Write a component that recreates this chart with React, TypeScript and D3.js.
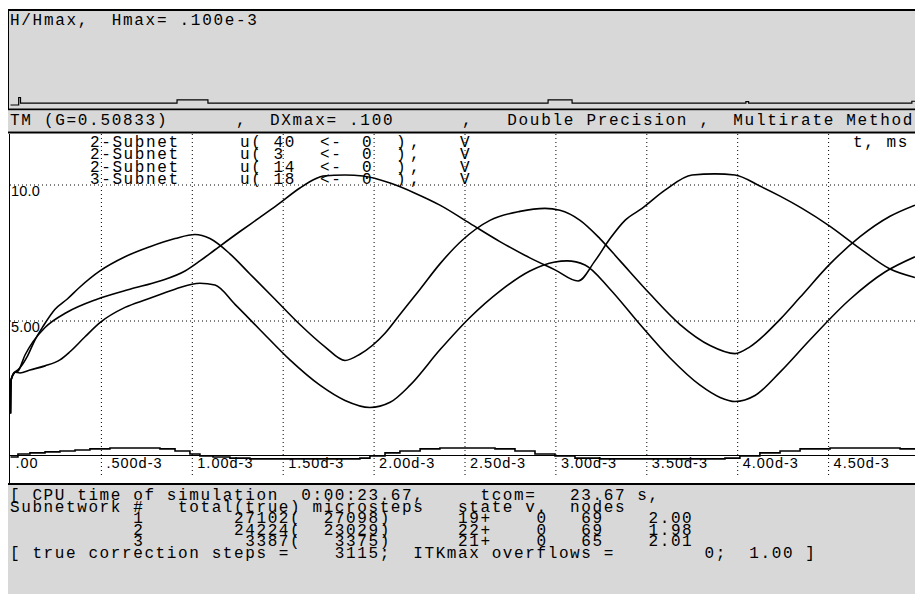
import React from "react";
import * as d3 from "d3";

// time in ms (axis labels are in seconds, d-3), values in V
const timeTicks = [0, 0.5, 1.0, 1.5, 2.0, 2.5, 3.0, 3.5, 4.0, 4.5];
const timeTickLabels = [".00", ".500d-3", "1.00d-3", "1.50d-3", "2.00d-3", "2.50d-3", "3.00d-3", "3.50d-3", "4.00d-3", "4.50d-3"];
const valueTicks = [5, 10];
const valueTickLabels = ["5.00", "10.0"];

type Pt = [number, number];

const u40: Pt[] = [
  [0, 1.6], [0.003, 2.83], [0.025, 3.12], [0.041, 3.2], [0.091, 3.68], [0.135, 4.31], [0.179, 4.8],
  [0.245, 5.43], [0.311, 5.8], [0.382, 6.25], [0.492, 6.84], [0.63, 7.36], [0.767, 7.73], [0.905, 8.03],
  [1.015, 8.18], [1.097, 8.03], [1.207, 7.47], [1.317, 6.73], [1.455, 5.8], [1.592, 4.87], [1.73, 4.05],
  [1.84, 3.55], [1.922, 3.78], [2.06, 4.55], [2.142, 5.24], [2.253, 6.17], [2.362, 7.1], [2.483, 7.96],
  [2.637, 8.7], [2.802, 9.03], [2.94, 9.14], [3.022, 9.07], [3.133, 8.7], [3.242, 8.03], [3.353, 7.21],
  [3.518, 5.99], [3.683, 4.87], [3.848, 4.1], [3.985, 3.8], [4.067, 4.05], [4.233, 5.06], [4.343, 5.87],
  [4.508, 7.1], [4.673, 8.1], [4.838, 8.85], [4.975, 9.26],
];

const u3: Pt[] = [
  [0, 1.6], [0.003, 2.83], [0.025, 3.12], [0.041, 3.16], [0.08, 3.75], [0.124, 4.24], [0.19, 4.76],
  [0.311, 5.32], [0.476, 5.8], [0.657, 6.17], [0.822, 6.47], [0.96, 6.84], [1.042, 7.21], [1.125, 7.62],
  [1.262, 8.29], [1.372, 8.81], [1.466, 9.26], [1.592, 9.89], [1.675, 10.22], [1.719, 10.33],
  [1.84, 10.37], [1.939, 10.33], [2.088, 10.07], [2.225, 9.7], [2.362, 9.26], [2.527, 8.59],
  [2.692, 7.92], [2.857, 7.32], [2.995, 6.88], [3.122, 6.47], [3.215, 7.21], [3.298, 8.03], [3.38, 8.7],
  [3.474, 9.14], [3.6, 9.81], [3.749, 10.37], [3.875, 10.41], [3.985, 10.37], [4.122, 9.96],
  [4.233, 9.59], [4.354, 9.14], [4.508, 8.48], [4.673, 7.66], [4.838, 6.91], [4.975, 6.6],
];

const u14: Pt[] = [
  [0, 1.6], [0.003, 2.83], [0.025, 3.12], [0.052, 3.09], [0.107, 3.2], [0.19, 3.35], [0.272, 3.57],
  [0.327, 3.87], [0.41, 4.42], [0.492, 4.94], [0.63, 5.5], [0.751, 5.8], [0.905, 6.17], [1.042, 6.39],
  [1.125, 6.32], [1.235, 5.61], [1.372, 4.68], [1.537, 3.57], [1.702, 2.64], [1.84, 2.08], [1.977, 1.82],
  [2.088, 2.01], [2.198, 2.64], [2.362, 3.94], [2.527, 5.13], [2.692, 6.1], [2.857, 6.84], [2.995, 7.17],
  [3.061, 7.21], [3.16, 7.06], [3.298, 6.17], [3.463, 4.87], [3.628, 3.64], [3.793, 2.64], [3.903, 2.19],
  [3.985, 2.04], [4.095, 2.26], [4.233, 3.12], [4.398, 4.31], [4.618, 5.8], [4.81, 6.8], [4.975, 7.36],
];

const u18: Pt[] = [
  [0, 0], [0.041, 0.11], [0.107, 0.15], [0.19, 0.19], [0.272, 0.22], [0.355, 0.26], [0.437, 0.3],
  [0.547, 0.33], [0.822, 0.3], [0.905, 0.22], [0.987, 0.11], [1.042, 0.04], [1.114, 0], [1.207, -0.04],
  [1.317, -0.07], [1.922, -0.04], [1.977, 0.04], [2.06, 0.15], [2.142, 0.22], [2.253, 0.3], [2.362, 0.33],
  [2.665, 0.3], [2.775, 0.22], [2.885, 0.11], [2.995, 0.04], [3.105, -0.04], [3.242, -0.07],
  [3.93, -0.04], [4.012, 0.04], [4.122, 0.15], [4.233, 0.22], [4.343, 0.3], [4.508, 0.33], [4.893, 0.3],
  [5.0, 0.3],
];

// step size ratio H/Hmax
const hRatio: Pt[] = [
  [0, 0], [0.045, 0.08], [0.055, 0.02], [0.916, 0.055], [1.086, 0.02], [2.957, 0.055], [3.089, 0.02],
  [4.045, 0.035], [4.06, 0.02], [4.958, 0.04], [5.0, 0.04],
];

const legendNets = ["2-Subnet", "2-Subnet", "2-Subnet", "3-Subnet"];
const legendNodes = ["40", "3", "14", "18"];

const topTitle = "H/Hmax,  Hmax= .100e-3";
const headerLine = "TM (G=0.50833)      ,  DXmax= .100      ,   Double Precision ,  Multirate Method";
const reportLines = [
  "[ CPU time of simulation  0:00:23.67,     tcom=   23.67 s,",
  "Subnetwork #   total(true) microsteps   state v.  nodes",
  "           1        27102(  27098)      19+    0   69    2.00",
  "           2        24224(  23029)      22+    0   69    1.98",
  "           3         3387(   3375)      21+    0   65    2.01",
  "[ true correction steps =    3115;  ITKmax overflows =        0;  1.00 ]",
];

const W = 915;
const H = 594;
const GRAY = "#d8d8d8";
const MONO = "'Liberation Mono', 'Courier New', monospace";
const SANS = "'Liberation Sans', Arial, sans-serif";

// monospace text at a given character pitch
const mono = (pitch: number): React.CSSProperties => ({
  fontFamily: MONO,
  fontSize: 16,
  letterSpacing: pitch - 9.6,
  whiteSpace: "pre",
});

export default function App() {
  const x = d3.scaleLinear().domain([0, 5]).range([10.5, 919.5]);
  const y = d3.scaleLinear().domain([0, 10]).range([457, 185]);
  const yH = d3.scaleLinear().domain([0, 1]).range([105, 11]);

  const smooth = d3
    .line<Pt>()
    .x((d) => x(d[0]))
    .y((d) => y(d[1]))
    .curve(d3.curveMonotoneX);
  const stair = d3
    .line<Pt>()
    .x((d) => x(d[0]))
    .y((d) => y(d[1]))
    .curve(d3.curveStepAfter);
  const hLine = d3
    .line<Pt>()
    .x((d) => x(d[0]))
    .y((d) => yH(d[1]))
    .curve(d3.curveStepAfter);

  const plotTop = 134;
  const plotBottom = 483;
  // legend column starts
  const legendCols = [90, 240, 320, 362, 396, 410, 460];

  return (
    <svg
      width={W}
      height={H}
      style={{ position: "absolute", left: 0, top: 0, background: "#fff" }}
    >
      {/* top panel: H/Hmax */}
      <rect x={8} y={10} width={W - 8} height={100} fill={GRAY} />
      <line x1={8} x2={W} y1={10} y2={10} stroke="#000" strokeWidth={2} />
      <line x1={8.5} x2={8.5} y1={10} y2={109} stroke="#000" />
      <text x={10} y={25} style={mono(11.3)} fill="#000" xmlSpace="preserve">
        {topTitle}
      </text>
      <path d={hLine(hRatio) ?? ""} fill="none" stroke="#000" strokeWidth={1.2} />

      {/* header strip */}
      <line x1={8} x2={W} y1={109.5} y2={109.5} stroke="#000" strokeWidth={2} />
      <rect x={8} y={110.5} width={W - 8} height={21} fill={GRAY} />
      <text x={10} y={125} style={mono(11.3)} fill="#000" xmlSpace="preserve">
        {headerLine}
      </text>
      <line x1={8} x2={W} y1={132.5} y2={132.5} stroke="#000" strokeWidth={2} />

      {/* plot area */}
      <line x1={9.5} x2={9.5} y1={plotTop} y2={plotBottom + 1} stroke="#000" />
      {timeTicks.slice(1).map((t) => (
        <line
          key={"v" + t}
          x1={x(t)}
          x2={x(t)}
          y1={plotTop}
          y2={478}
          stroke="#000"
          strokeDasharray="1 3"
        />
      ))}
      {valueTicks.map((v) => (
        <line
          key={"h" + v}
          x1={10}
          x2={W}
          y1={y(v)}
          y2={y(v)}
          stroke="#000"
          strokeDasharray="1 3"
        />
      ))}
      <line x1={10} x2={W} y1={y(0) - 1.5} y2={y(0) - 1.5} stroke="#000" strokeWidth={1.2} />

      {valueTicks.map((v, i) => (
        <text
          key={"yl" + v}
          x={11}
          y={y(v) + 11}
          fontFamily={SANS}
          fontSize={14.5}
          letterSpacing={0.2}
          fill="#000"
        >
          {valueTickLabels[i]}
        </text>
      ))}
      {timeTicks.map((t, i) => (
        <text
          key={"xl" + t}
          x={x(t) + 5}
          y={467.5}
          fontFamily={SANS}
          fontSize={14.5}
          letterSpacing={1}
          fill="#000"
        >
          {timeTickLabels[i]}
        </text>
      ))}

      {/* legend block */}
      <text style={mono(11.2)} fill="#000" xmlSpace="preserve">
        {legendNets.map((n, i) => {
          const ly = 147 + i * 12.4;
          const parts = [n, "u( " + legendNodes[i], "<-", "0", ")", ",", "V"];
          return parts.map((p, j) => (
            <tspan key={i + "-" + j} x={legendCols[j]} y={ly}>
              {p}
            </tspan>
          ));
        })}
        <tspan x={853} y={147}>{"t, ms"}</tspan>
      </text>

      {/* curves */}
      {[u40, u3, u14].map((s, i) => (
        <path key={"c" + i} d={smooth(s) ?? ""} fill="none" stroke="#000" strokeWidth={1.6} />
      ))}
      <path d={stair(u18) ?? ""} fill="none" stroke="#000" strokeWidth={1.6} />

      {/* report block */}
      <line x1={8} x2={W} y1={plotBottom + 1} y2={plotBottom + 1} stroke="#000" strokeWidth={2} />
      <rect x={8} y={plotBottom + 2} width={W - 8} height={H - plotBottom - 2} fill={GRAY} />
      <text style={mono(11.2)} fill="#000" xmlSpace="preserve">
        {reportLines.map((l, i) => (
          <tspan key={"r" + i} x={10} y={500 + i * 11.6}>
            {l}
          </tspan>
        ))}
      </text>
    </svg>
  );
}
